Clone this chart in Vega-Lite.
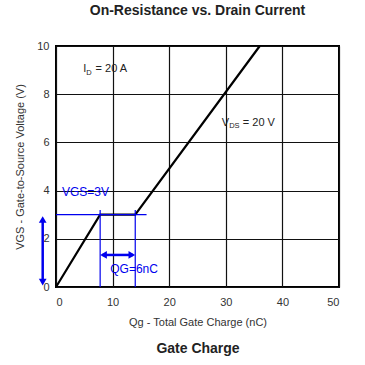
{
  "$schema": "https://vega.github.io/schema/vega-lite/v6.json",
  "autosize": "none",
  "padding": {"left": 56, "top": 46, "right": 26, "bottom": 78},
  "width": 283,
  "height": 241,
  "config": {
    "font": "Liberation Sans",
    "view": {"stroke": "black", "strokeWidth": 2},
    "axis": {"grid": true, "gridColor": "#111", "gridWidth": 1.2, "gridOpacity": 1, "domain": false, "ticks": false, "labelFont": "Liberation Sans", "labelFontSize": 11, "labelColor": "#333", "titleFont": "Liberation Sans", "titleFontSize": 11, "titleFontWeight": "normal", "titleColor": "#333"},
    "title": {"font": "Liberation Sans", "fontSize": 14, "fontWeight": "bold", "color": "#222"}
  },
  "title": {"text": "On-Resistance vs. Drain Current", "offset": 22},
  "resolve": {"axis": {"x": "independent"}},
  "datasets": {
    "curve": [{"q": 0, "v": 0}, {"q": 7.8, "v": 3}, {"q": 14, "v": 3}, {"q": 36, "v": 10}],
    "hline": [{"q": 0, "v": 3}, {"q": 16, "v": 3}],
    "vlines": [{"q": 7.8, "v0": 0, "v1": 3.2}, {"q": 14, "v0": 0, "v1": 3.2}],
    "harrow": [{"q0": 8.2, "q1": 13.6, "v": 1.33}],
    "harrowHeads": [{"q": 8.4, "v": 1.33, "dir": "left"}, {"q": 13.4, "v": 1.33, "dir": "right"}],
    "varrow": [{"q": -2.35, "v0": 0.2, "v1": 2.75}],
    "varrowHeads": [{"q": -2.35, "v": 2.8, "dir": "up"}, {"q": -2.35, "v": 0.2, "dir": "down"}],
    "blueText": [{"q": 5.2, "v": 3.95, "t": "VGS=3V"}, {"q": 13.8, "v": 0.75, "t": "QG=6nC"}],
    "mainText": [{"q": 4.8, "v": 9.04, "t": "I"}, {"q": 7.0, "v": 9.04, "t": "= 20 A"}, {"q": 29.3, "v": 6.8, "t": "V"}, {"q": 33.0, "v": 6.8, "t": "= 20 V"}],
    "subText": [{"q": 5.35, "v": 8.9, "t": "D"}, {"q": 30.6, "v": 6.66, "t": "DS"}]
  },
  "layer": [
    {
      "data": {"name": "curve"},
      "mark": {"type": "line", "color": "black", "strokeWidth": 2.2},
      "encoding": {
        "x": {"field": "q", "type": "quantitative", "scale": {"domain": [0, 50]}, "axis": {"values": [0, 10, 20, 30, 40, 50], "title": "Qg - Total Gate Charge (nC)", "labelPadding": 9, "titlePadding": 9}},
        "y": {"field": "v", "type": "quantitative", "scale": {"domain": [0, 10]}, "axis": {"values": [0, 2, 4, 6, 8, 10], "title": "VGS - Gate-to-Source Voltage (V)", "labelPadding": 7, "titlePadding": 11}}
      }
    },
    {
      "data": {"name": "hline"},
      "mark": {"type": "line", "color": "#0000ee", "strokeWidth": 1.2},
      "encoding": {
        "x": {"field": "q", "type": "quantitative", "axis": {"orient": "bottom", "labels": false, "grid": false, "title": "Gate Charge", "titleFontWeight": "bold", "titleFontSize": 14, "titleColor": "#222", "titlePadding": 54}},
        "y": {"field": "v", "type": "quantitative"}
      }
    },
    {
      "data": {"name": "vlines"},
      "mark": {"type": "rule", "color": "#0000ee", "strokeWidth": 1.2},
      "encoding": {"x": {"field": "q", "type": "quantitative", "axis": null}, "y": {"field": "v0", "type": "quantitative"}, "y2": {"field": "v1"}}
    },
    {
      "data": {"name": "harrow"},
      "mark": {"type": "rule", "color": "#0000ee", "strokeWidth": 2.5},
      "encoding": {"x": {"field": "q0", "type": "quantitative", "axis": null}, "x2": {"field": "q1"}, "y": {"field": "v", "type": "quantitative"}}
    },
    {
      "data": {"name": "harrowHeads"},
      "mark": {"type": "point", "filled": true, "color": "#0000ee", "size": 60, "opacity": 1},
      "encoding": {
        "x": {"field": "q", "type": "quantitative", "axis": null},
        "y": {"field": "v", "type": "quantitative"},
        "shape": {"field": "dir", "type": "nominal", "scale": {"domain": ["left", "right", "up", "down"], "range": ["triangle-left", "triangle-right", "triangle-up", "triangle-down"]}, "legend": null}
      }
    },
    {
      "data": {"name": "varrow"},
      "mark": {"type": "rule", "color": "#0000ee", "strokeWidth": 2.5, "clip": false},
      "encoding": {"x": {"field": "q", "type": "quantitative", "axis": null}, "y": {"field": "v0", "type": "quantitative"}, "y2": {"field": "v1"}}
    },
    {
      "data": {"name": "varrowHeads"},
      "mark": {"type": "point", "filled": true, "color": "#0000ee", "size": 60, "opacity": 1, "clip": false},
      "encoding": {
        "x": {"field": "q", "type": "quantitative", "axis": null},
        "y": {"field": "v", "type": "quantitative"},
        "shape": {"field": "dir", "type": "nominal", "legend": null}
      }
    },
    {
      "data": {"name": "blueText"},
      "mark": {"type": "text", "color": "#0000ee", "fontSize": 12, "font": "Liberation Sans"},
      "encoding": {"x": {"field": "q", "type": "quantitative", "axis": null}, "y": {"field": "v", "type": "quantitative"}, "text": {"field": "t"}}
    },
    {
      "data": {"name": "mainText"},
      "mark": {"type": "text", "color": "#222", "fontSize": 11, "align": "left", "font": "Liberation Sans"},
      "encoding": {"x": {"field": "q", "type": "quantitative", "axis": null}, "y": {"field": "v", "type": "quantitative"}, "text": {"field": "t"}}
    },
    {
      "data": {"name": "subText"},
      "mark": {"type": "text", "color": "#222", "fontSize": 7.5, "align": "left", "font": "Liberation Sans"},
      "encoding": {"x": {"field": "q", "type": "quantitative", "axis": null}, "y": {"field": "v", "type": "quantitative"}, "text": {"field": "t"}}
    }
  ]
}
